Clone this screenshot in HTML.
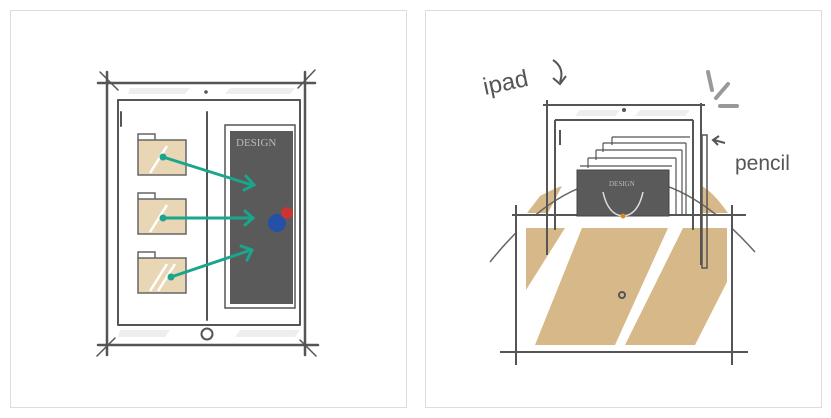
<!DOCTYPE html><html><head><style>body{margin:0;background:#fff}svg{display:block}</style></head><body>
<svg width="831" height="418" viewBox="0 0 831 418" xmlns="http://www.w3.org/2000/svg">
<rect x="10.5" y="10.5" width="396" height="397" fill="#fff" stroke="#ddd"/>
<rect x="425.5" y="10.5" width="396" height="397" fill="#fff" stroke="#ddd"/>
<g stroke="#555" stroke-width="2.5" fill="none" stroke-linecap="round">
<path d="M98 83H315M98 345H318M107 72V355M305 72V355"/>
<path d="M100 72L118 90M315 70L298 88M97 356L115 338M316 356L300 340" stroke-width="1.5"/>
<path d="M118 100H300M118 325H300M118 100V325M300 100V325M207 112V320" stroke-width="2"/>
<path d="M121 112V126" stroke-width="2"/>
<rect x="225" y="125" width="70" height="183" stroke-width="1.5"/>
<circle cx="207" cy="334" r="5.5" stroke-width="2"/>
</g>
<path d="M130 88H190L185 94H128ZM230 88H295L290 94H225ZM120 330H170L165 337H118ZM240 330H300L295 337H235Z" fill="#eee"/>
<circle cx="206" cy="92" r="1.8" fill="#555"/>
<rect x="230" y="131" width="63" height="173" fill="#5a5a5a"/>
<text x="236" y="146" font-family="Liberation Serif,serif" font-size="11" fill="#bbb">DESIGN</text>
<circle cx="277" cy="223" r="9" fill="#2450a8"/><circle cx="287" cy="213" r="6" fill="#c33"/>
<g fill="#e8d6b4" stroke="#666" stroke-width="1.5">
<rect x="138" y="140" width="48" height="35"/><rect x="138" y="199" width="48" height="35"/><rect x="138" y="258" width="48" height="35"/>
</g>
<g fill="none" stroke="#666" stroke-width="1.5"><path d="M138 140V134H155V140M138 199V193H155V199M138 258V252H155V258"/></g>
<g stroke="#fff" stroke-width="2.5"><path d="M150 173L167 146M150 232L167 205M150 291L167 264M158 291L175 264"/></g>
<g stroke="#1aa58c" stroke-width="3" fill="none" stroke-linecap="round">
<path d="M163 157L252 185M246 176L254 185L244 190"/>
<path d="M163 218L252 218M245 211L253 218L245 225"/>
<path d="M171 277L251 250M241 246L252 250L247 260"/>
</g>
<g fill="#1aa58c"><circle cx="163" cy="157" r="3.5"/><circle cx="163" cy="218" r="3.5"/><circle cx="171" cy="277" r="3.5"/></g>
<!-- right -->
<path d="M527 213L540 196Q555 188 562 186L548 213ZM700 213L702 186Q712 192 722 205L728 213Z" fill="#d7b888"/>
<path d="M490 262Q620 100 755 252" fill="none" stroke="#666" stroke-width="1.5"/>
<path d="M517 216H731V351H517Z" fill="#fff"/>
<path d="M526 228H565L526 290ZM582 228H668L615 345H535ZM683 228H727V282L695 345H625Z" fill="#d7b888"/>
<g stroke="#555" stroke-width="2" fill="none">
<path d="M543 105H705M547 100V255M701 103V265M555 120H693M555 120V230M693 120V230M560 130V145"/>
<path d="M512 215H746M516 205V365M732 205V365M500 352H748"/>
<path d="M702 135V268L707 268V135Z" stroke-width="1.5"/>
<path d="M612 137H690M603 143H686M596 150H682M588 158H676M580 166H672" stroke-width="1.2"/>
<path d="M612 137V145M603 143V152M596 150V160M588 158V168M686 143V215M682 150V215M676 158V215" stroke-width="1.2"/>
</g>
<rect x="577" y="170" width="92" height="46" fill="#5a5a5a" stroke="#444"/>
<text x="609" y="186" font-family="Liberation Serif,serif" font-size="7" fill="#bbb">DESIGN</text>
<path d="M603 192Q608 215 623 216Q638 215 643 192" fill="none" stroke="#ddd" stroke-width="1.5"/>
<circle cx="623" cy="216" r="2.5" fill="#d88a20"/>
<path d="M580 110H620L615 116H575ZM640 110H690L685 116H635Z" fill="#eee"/>
<circle cx="624" cy="110" r="2" fill="#555"/>
<circle cx="622" cy="295" r="3" fill="none" stroke="#555" stroke-width="2"/>
<g stroke="#999" stroke-width="4" stroke-linecap="round"><path d="M708 72L712 90M716 98L728 84M720 106H737"/></g>
<text x="485" y="95" font-family="Liberation Sans,sans-serif" font-size="24" fill="#555" transform="rotate(-12 485 95)">ipad</text>
<path d="M553 60Q565 68 560 82M553 78L560 84L566 76" fill="none" stroke="#555" stroke-width="2"/>
<text x="735" y="170" font-family="Liberation Sans,sans-serif" font-size="21" fill="#555">pencil</text>
<path d="M725 143L714 140M719 136L713 140L718 145" fill="none" stroke="#555" stroke-width="2"/>
</svg></body></html>
